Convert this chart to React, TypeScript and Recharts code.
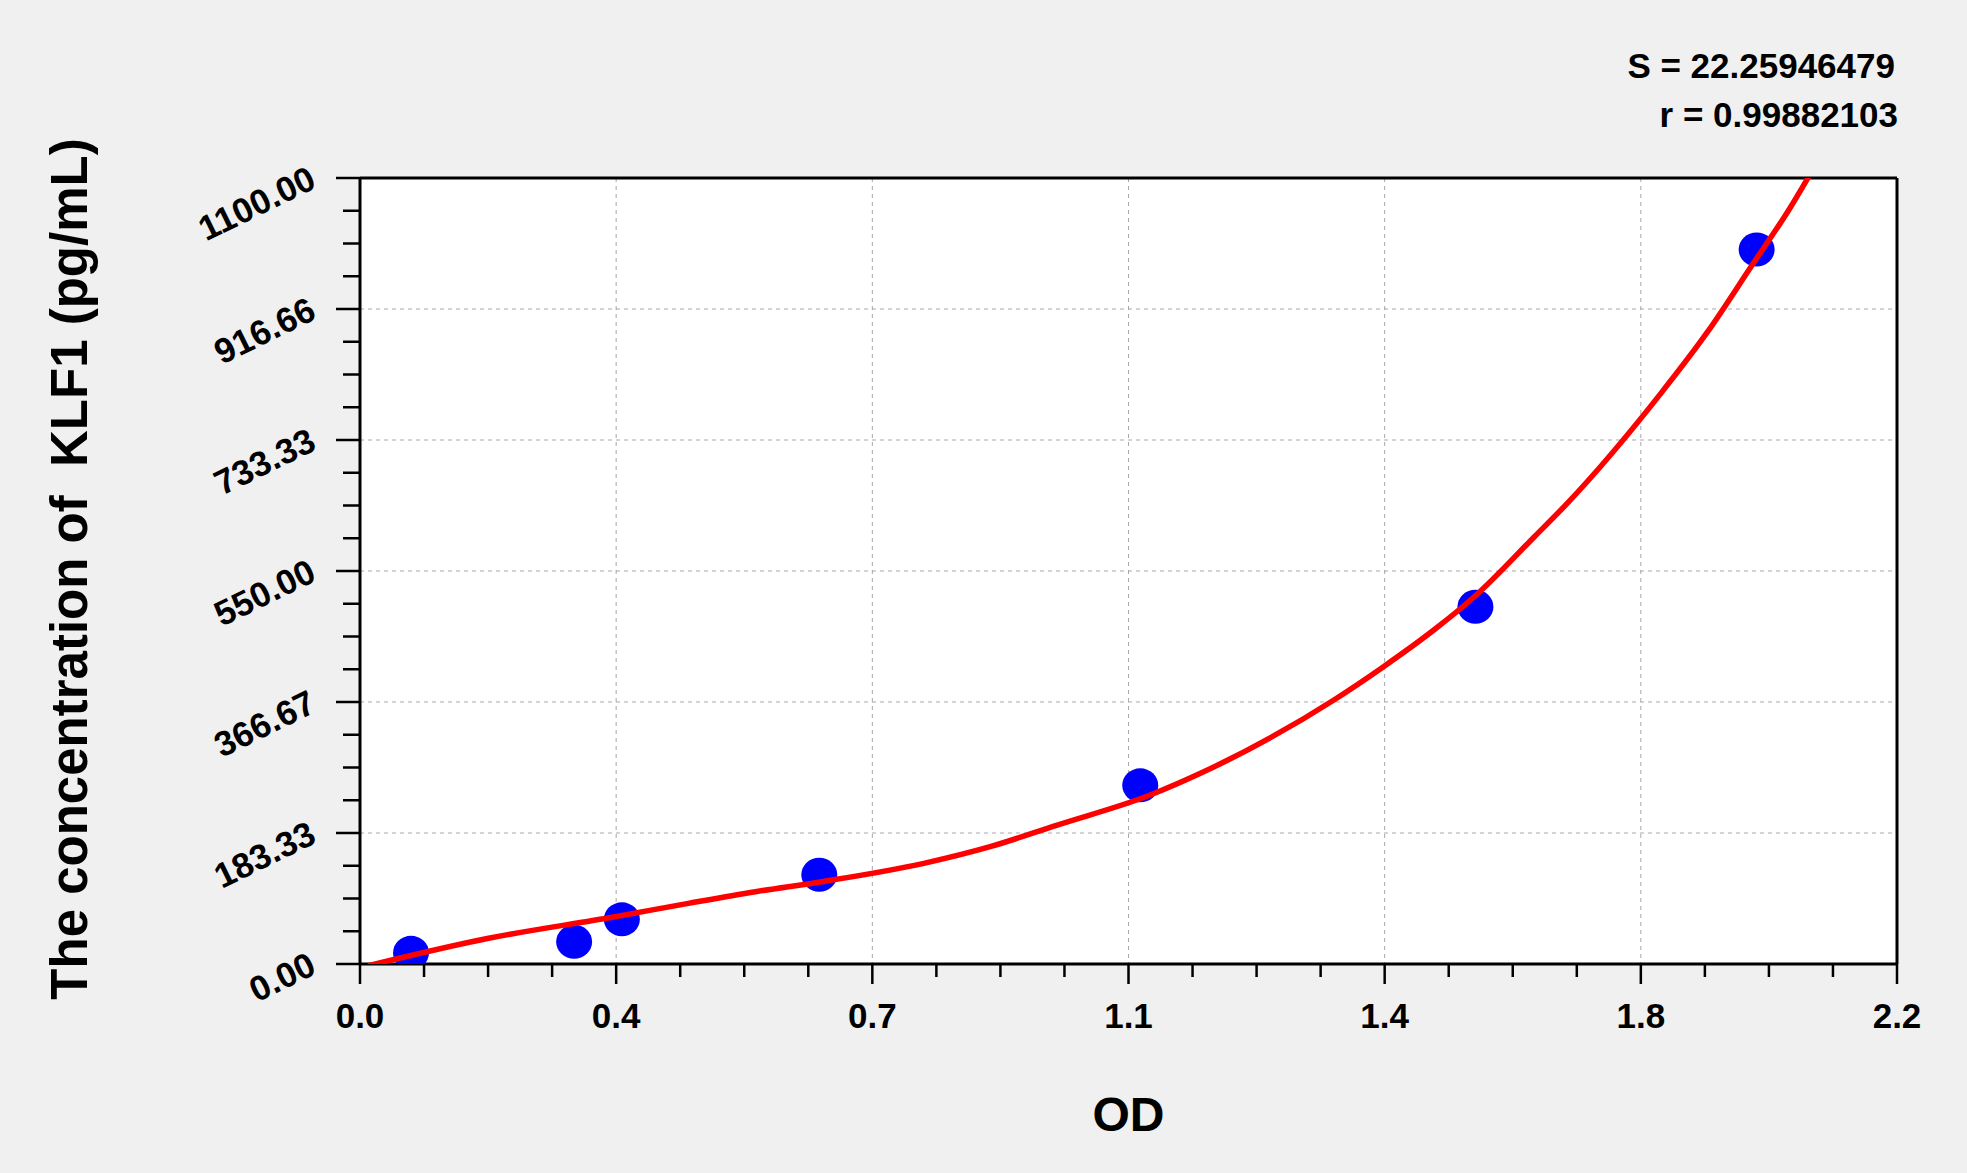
import React from 'react';
import { ComposedChart, Line, Scatter, XAxis, YAxis, CartesianGrid, ReferenceLine } from 'recharts';

if (typeof document !== 'undefined') {
  document.body.style.margin = '0';
  document.body.style.background = '#f0f0f0';
  document.body.style.overflow = 'hidden';
}

// Axis ticks
const xMajorTicks = [0, 0.366667, 0.733333, 1.1, 1.466667, 1.833333, 2.2];
const xMajorLabels = ['0.0', '0.4', '0.7', '1.1', '1.4', '1.8', '2.2'];
const xMinorTicks = [
  0.091667, 0.183333, 0.275, 0.458333, 0.55, 0.641667, 0.825, 0.916667, 1.008333,
  1.191667, 1.283333, 1.375, 1.558333, 1.65, 1.741667, 1.925, 2.016667, 2.108333,
];
const yMajorTicks = [0, 183.333, 366.667, 550, 733.333, 916.667, 1100];
const yMajorLabels = ['0.00', '183.33', '366.67', '550.00', '733.33', '916.66', '1100.00'];
const yMinorTicks = [
  45.833, 91.667, 137.5, 229.167, 275, 320.833, 412.5, 458.333, 504.167,
  595.833, 641.667, 687.5, 779.167, 825, 870.833, 962.5, 1008.333, 1054.167,
];

// Standards (points)
const standardOD = [0.073, 0.3065, 0.3748, 0.6574, 1.1168, 1.5966, 1.9991];
const standardConc = [15.6, 31.25, 62.5, 125, 250, 500, 1000];

// Fitted curve
const curveOD = [
  0.012, 0.184, 0.365, 0.47, 0.566, 0.661, 0.807, 0.902, 0.998, 1.131, 1.203,
  1.394, 1.465, 1.537, 1.595, 1.681, 1.728, 1.862, 1.929, 1.991, 2.048, 2.079,
];
const curveConc = [
  -2.3, 36.0, 66.2, 84.9, 101.2, 115.2, 140.9, 164.2, 194.5, 236.5, 266.9,
  369.5, 416.1, 467.4, 514.0, 598.0, 644.7, 798.6, 884.9, 975.8, 1059.8, 1111.0,
];

const statS = 'S = 22.25946479';
const statR = 'r = 0.99882103';
const xTitle = 'OD';
const yTitle = 'The concentration of  KLF1 (pg/mL)';

const FONT = '"Liberation Sans", Arial, Helvetica, sans-serif';

const pointData = standardOD.map((x, i) => ({ x, y: standardConc[i] }));
const curveData = curveOD.map((x, i) => ({ x, y: curveConc[i] }));

const allXTicks = [...xMajorTicks, ...xMinorTicks].sort((a, b) => a - b);
const allYTicks = [...yMajorTicks, ...yMinorTicks].sort((a, b) => a - b);

const majorIndex = (arr: number[], v: number) => arr.findIndex((m) => Math.abs(m - v) < 1e-4);

const XTick = (props: any) => {
  const { x, y, payload } = props;
  const idx = majorIndex(xMajorTicks, payload.value);
  const major = idx >= 0;
  return (
    <g>
      <line x1={x} x2={x} y1={y} y2={y + (major ? 20 : 13)} stroke="#000" strokeWidth={2.5} />
      {major && (
        <text x={x} y={y + 64} textAnchor="middle" fontFamily={FONT} fontWeight="bold" fontSize={35} fill="#000">
          {xMajorLabels[idx]}
        </text>
      )}
    </g>
  );
};

const YTick = (props: any) => {
  const { x, y, payload } = props;
  const idx = majorIndex(yMajorTicks, payload.value);
  const major = idx >= 0;
  const tx = x - 42;
  const ty = y + 9;
  return (
    <g>
      <line x1={x} x2={x - (major ? 24 : 17)} y1={y} y2={y} stroke="#000" strokeWidth={2.5} />
      {major && (
        <text
          x={tx}
          y={ty}
          textAnchor="end"
          transform={`rotate(-26, ${tx}, ${ty})`}
          fontFamily={FONT}
          fontWeight="bold"
          fontSize={35}
          fill="#000"
        >
          {yMajorLabels[idx]}
        </text>
      )}
    </g>
  );
};

const Dot = (props: any) => {
  const { cx, cy } = props;
  if (cx == null || cy == null) return null;
  return <ellipse cx={cx} cy={cy} rx={18} ry={17} fill="#0000ff" />;
};

const XTitle = (props: any) => {
  const vb = props.viewBox || {};
  return (
    <text x={vb.x + vb.width / 2} y={vb.y + 167} textAnchor="middle" fontFamily={FONT} fontWeight="bold" fontSize={48} fill="#000">
      {xTitle}
    </text>
  );
};

const YTitle = (props: any) => {
  const vb = props.viewBox || {};
  const cx = vb.x - 173;
  const cy = vb.y + vb.height / 2 - 2;
  return (
    <text
      x={cx}
      y={cy}
      textAnchor="middle"
      transform={`rotate(-90, ${cx}, ${cy})`}
      fontFamily={FONT}
      fontWeight="bold"
      fontSize={51}
      fill="#000"
      style={{ whiteSpace: 'pre' }}
    >
      {yTitle}
    </text>
  );
};

export default function App() {
  return (
    <div style={{ position: 'relative', width: 1967, height: 1173, background: '#f0f0f0' }}>
      <ComposedChart
        width={1967}
        height={1173}
        margin={{ top: 178, right: 70, left: 260, bottom: 109 }}
        style={{ background: '#f0f0f0' }}
      >
        <CartesianGrid
          fill="#ffffff"
          stroke="#a8a8a8"
          strokeDasharray="4 4"
          strokeWidth={1}
          horizontalValues={yMajorTicks}
          verticalValues={xMajorTicks}
        />
        <XAxis
          type="number"
          dataKey="x"
          domain={[0, 2.2]}
          allowDataOverflow
          ticks={allXTicks}
          interval={0}
          tick={<XTick />}
          tickLine={false}
          tickSize={0}
          tickMargin={0}
          height={100}
          axisLine={{ stroke: '#000', strokeWidth: 3 }}
          label={{ content: <XTitle /> }}
        />
        <YAxis
          type="number"
          dataKey="y"
          domain={[0, 1100]}
          allowDataOverflow
          ticks={allYTicks}
          interval={0}
          tick={<YTick />}
          tickLine={false}
          tickSize={0}
          tickMargin={0}
          width={100}
          axisLine={{ stroke: '#000', strokeWidth: 3 }}
          label={{ content: <YTitle /> }}
        />
        <ReferenceLine y={1100} stroke="#000" strokeWidth={3} />
        <ReferenceLine x={2.2} stroke="#000" strokeWidth={3} />
        <Scatter data={pointData} dataKey="y" shape={<Dot />} isAnimationActive={false} zIndex={600} />
        <Line
          data={curveData}
          dataKey="y"
          type="monotone"
          stroke="#ff0000"
          strokeWidth={5.5}
          dot={false}
          activeDot={false}
          isAnimationActive={false}
          zIndex={700}
        />
      </ComposedChart>
      <svg
        width={1967}
        height={1173}
        style={{ position: 'absolute', left: 0, top: 0, pointerEvents: 'none' }}
      >
        <text x={1895} y={78} textAnchor="end" fontFamily={FONT} fontWeight="bold" fontSize={35} fill="#000">
          {statS}
        </text>
        <text x={1898} y={127} textAnchor="end" fontFamily={FONT} fontWeight="bold" fontSize={35} fill="#000">
          {statR}
        </text>
      </svg>
    </div>
  );
}
